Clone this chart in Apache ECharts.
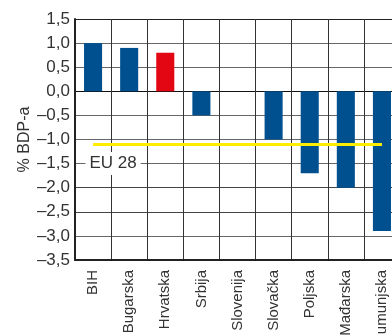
<!DOCTYPE html>
<html>
<head>
<meta charset="utf-8">
<script src="https://cdn.jsdelivr.net/npm/echarts@6/dist/echarts.min.js"></script>
<style>
  html, body { margin: 0; padding: 0; background: #fff; }
  #chart { width: 392px; height: 335px; }
</style>
</head>
<body>
<div id="chart"></div>
<script>
// Saldo po zemljama, % BDP-a
const categories = ['BIH', 'Bugarska', 'Hrvatska', 'Srbija', 'Slovenija', 'Slovačka', 'Poljska', 'Mađarska', 'Rumunjska'];
const values = [1.0, 0.9, 0.8, -0.5, 0.0, -1.0, -1.7, -2.0, -2.9];
const highlight = 'Hrvatska';
const euAverage = -1.1;
const euLabel = 'EU 28';
const axisName = '% BDP-a';

const BLUE = '#00508f';
const RED = '#e30613';
const FONT = 'Liberation Sans';

const fmt = v => v.toFixed(1).replace('.', ',').replace('-', '–');

const chart = echarts.init(document.getElementById('chart'));
chart.setOption({
  animation: false,
  backgroundColor: '#fff',
  grid: { left: 75, top: 19, right: -8, bottom: 75, containLabel: false, outerBoundsMode: 'none' },
  xAxis: {
    type: 'category',
    data: categories,
    axisLine: { onZero: false, lineStyle: { color: '#222', width: 2 } },
    axisTick: { show: false },
    splitLine: { show: true, lineStyle: { color: '#333', width: 1 } },
    axisLabel: {
      rotate: 90, margin: 10, interval: 0,
      color: '#333', fontFamily: FONT, fontSize: 15
    }
  },
  yAxis: {
    type: 'value',
    min: -3.5, max: 1.5, interval: 0.5,
    name: axisName,
    nameLocation: 'middle',
    nameGap: 42,
    nameMoveOverlap: false,
    nameTextStyle: { color: '#333', fontFamily: FONT, fontSize: 16 },
    axisLine: { show: true, lineStyle: { color: '#222', width: 2 } },
    axisTick: { show: false },
    axisLabel: {
      formatter: fmt, margin: 5,
      color: '#333', fontFamily: FONT, fontSize: 17
    },
    splitLine: {
      show: true,
      lineStyle: {
        width: 1,
        color: ['#444', '#666', '#444', '#444', '#666', '#666', '#666', '#111', '#666', '#666', '#222']
      }
    }
  },
  series: [{
    type: 'bar',
    barWidth: '50%',
    data: categories.map((c, i) => ({
      value: values[i],
      itemStyle: { color: c === highlight ? RED : BLUE }
    })),
    markLine: {
      silent: true,
      symbol: 'none',
      label: { show: false },
      lineStyle: { color: '#ffed00', width: 3, type: 'solid' },
      data: [[
        { coord: [categories[0], euAverage] },
        { coord: [categories[categories.length - 1], euAverage] }
      ]]
    },
    markPoint: {
      silent: true,
      symbol: 'rect',
      symbolSize: 0,
      data: [{ coord: [categories[0], -1.5] }],
      label: {
        show: true,
        formatter: euLabel,
        position: 'inside',
        offset: [20, 0],
        color: '#333',
        fontFamily: FONT,
        fontSize: 17,
        backgroundColor: '#fff',
        padding: [3, 4, 3, 4]
      }
    }
  }]
});
</script>
</body>
</html>
